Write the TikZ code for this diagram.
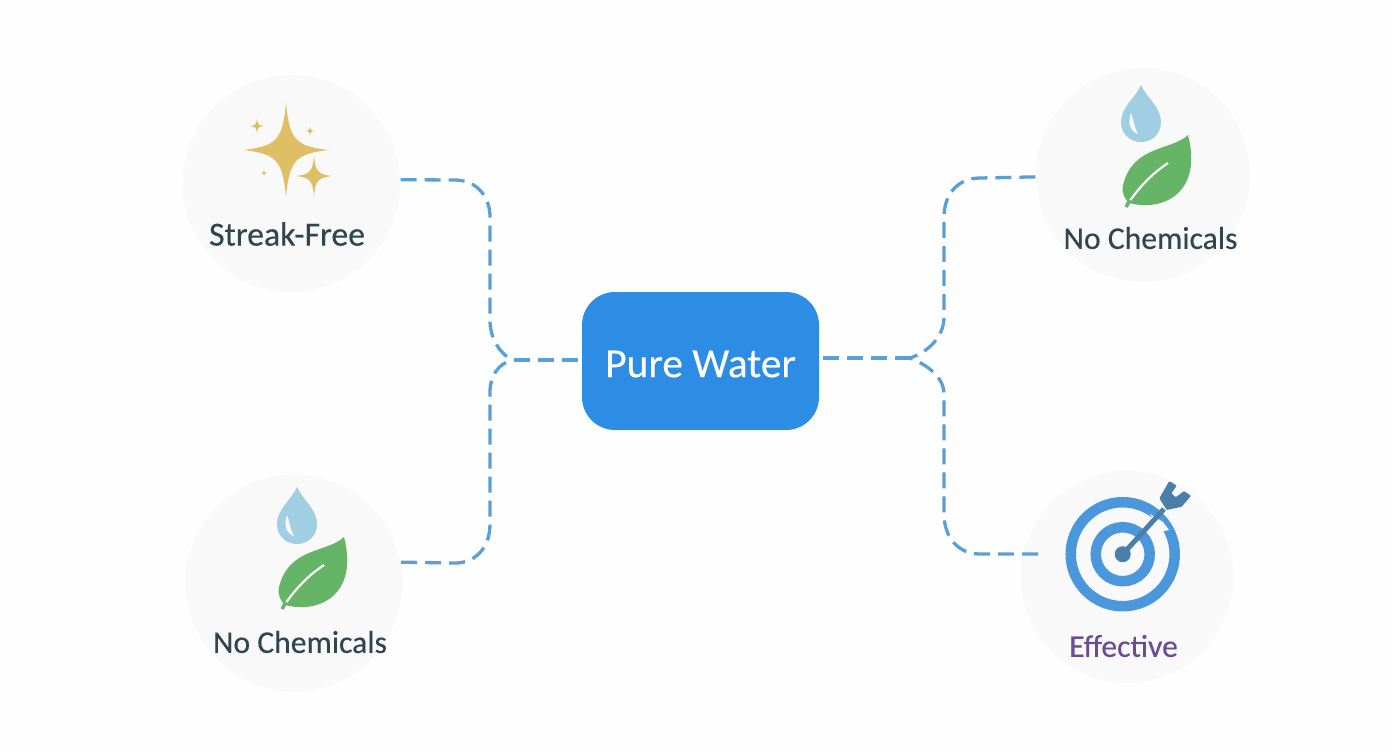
\documentclass[tikz,border=0pt]{standalone}
\usepackage{fontspec}
\setmainfont{Carlito}
\usepackage{tikz}
\usetikzlibrary{positioning}
\definecolor{pagebg}{HTML}{FEFEFE}
\definecolor{circbg}{HTML}{F9F9FA}
\definecolor{boxblue}{HTML}{2D8CE3}
\definecolor{linkblue}{HTML}{5A9FD8}
\definecolor{ringblue}{HTML}{4A98DB}
\definecolor{dartblue}{HTML}{4A7FA8}
\definecolor{stargold}{HTML}{DFBF66}
\definecolor{dropblue}{HTML}{A0CFE4}
\definecolor{leafgreen}{HTML}{66B566}
\definecolor{slate}{HTML}{2F4550}
\definecolor{plum}{HTML}{6A4C93}
\tikzstyle{link} = [linkblue,line width=0.033cm,dash pattern=on 0.16cm off 0.08cm]
\tikzstyle{badge} = [circle,fill=circbg,inner sep=0pt]
\tikzstyle{caption} = [slate,inner sep=0pt,font=\fontsize{9.6}{12}\selectfont\addfontfeature{FakeBold=0.3}]
\tikzstyle{smallcaption} = [caption,font=\fontsize{9.0}{12}\selectfont\addfontfeature{FakeBold=0.3}]
\newcommand{\sparkle}[4]{%
        \fill[stargold] (#1,#2+#4) .. controls (#1+0.08*#3,#2+0.22*#4) and (#1+0.22*#3,#2+0.08*#4) .. (#1+#3,#2)
        .. controls (#1+0.22*#3,#2-0.08*#4) and (#1+0.08*#3,#2-0.22*#4) .. (#1,#2-#4)
        .. controls (#1-0.08*#3,#2-0.22*#4) and (#1-0.22*#3,#2-0.08*#4) .. (#1-#3,#2)
        .. controls (#1-0.22*#3,#2+0.08*#4) and (#1-0.08*#3,#2+0.22*#4) .. cycle;}
\newcommand{\dropleaf}[2]{%
        \begin{scope}[shift={(#1,#2)}]
        \fill[dropblue] (0,0) .. controls (0.05,-0.12) and (0.20,-0.22) .. (0.20,-0.37)
        .. controls (0.20,-0.49) and (0.11,-0.57) .. (0,-0.57)
        .. controls (-0.11,-0.57) and (-0.20,-0.49) .. (-0.20,-0.37)
        .. controls (-0.20,-0.22) and (-0.05,-0.12) .. cycle;
        \fill[circbg] (-0.10,-0.28) .. controls (-0.14,-0.38) and (-0.10,-0.47) .. (-0.03,-0.49)
        .. controls (-0.07,-0.42) and (-0.07,-0.36) .. cycle;
        \fill[leafgreen] (0.47,-0.50) .. controls (0.30,-0.66) and (-0.08,-0.60) .. (-0.18,-1.00)
        .. controls (-0.20,-1.08) and (-0.16,-1.14) .. (-0.12,-1.18)
        .. controls (0.22,-1.27) and (0.62,-1.08) .. cycle;
        \draw[circbg,line width=0.022cm] (-0.12,-1.17) .. controls (0.00,-1.00) and (0.12,-0.88) .. (0.27,-0.78);
        \draw[leafgreen,line width=0.035cm] (-0.15,-1.22) -- (-0.11,-1.15);
        \end{scope}}
\begin{document}
\begin{tikzpicture}
        \useasboundingbox (0,0) rectangle (13.92,7.52);
        \fill[pagebg] (0,0) rectangle (13.92,7.52);
        % badges
        \node[badge,minimum size=2.17cm] (streak) at (2.915,5.685) {};
        \node[badge,minimum size=2.14cm] (chemR) at (11.43,5.77) {};
        \node[badge,minimum size=2.17cm] (chemL) at (2.94,1.69) {};
        \node[badge,minimum size=2.12cm] (effect) at (11.27,1.75) {};
        % centre box
        \node[fill=boxblue,rounded corners=0.33cm,minimum width=2.37cm,minimum height=1.38cm,outer sep=0.04cm] (pure) at (7.005,3.91) {};
        \node[text=white,inner sep=0pt,font=\fontsize{11.8}{14}\selectfont\addfontfeature{FakeBold=0.3}] (pureText) at (7.005,3.88) {Pure Water};
        \coordinate (hubL) at (5.12,3.92);
        \coordinate (hubR) at (9.10,3.94);
        \coordinate (effEnd) at (10.38,1.98);
        % links
        \draw[link] (pure.west |- hubL) -- (hubL);
        \draw[link] (pure.east |- hubR) -- (hubR);
        \draw[link] (streak.2) -- (4.55,5.72) .. controls (4.76,5.72) and (4.90,5.56) .. (4.90,5.35) -- (4.90,4.32) .. controls (4.90,4.15) and (4.98,4.00) .. (hubL);
        \draw[link] (chemL.11) -- (4.55,1.89) .. controls (4.76,1.89) and (4.90,2.05) .. (4.90,2.28) -- (4.90,3.60) .. controls (4.90,3.76) and (4.98,3.88) .. (hubL);
        \draw[link] (chemR.181) -- (9.80,5.74) .. controls (9.58,5.74) and (9.44,5.58) .. (9.44,5.35) -- (9.44,4.35) .. controls (9.44,4.15) and (9.28,4.00) .. (hubR);
        \draw[link] (effEnd) -- (9.80,1.98) .. controls (9.58,1.98) and (9.44,2.15) .. (9.44,2.38) -- (9.44,3.58) .. controls (9.44,3.75) and (9.26,3.88) .. (hubR);
        % sparkles
        \sparkle{2.86}{6.02}{0.43}{0.47}
        \sparkle{3.14}{5.76}{0.18}{0.205}
        \sparkle{2.57}{6.26}{0.07}{0.075}
        \sparkle{3.10}{6.21}{0.045}{0.05}
        \sparkle{2.64}{5.79}{0.03}{0.035}
        % drops and leaves
        \dropleaf{11.41}{6.67}
        \dropleaf{2.97}{2.65}
        % target
        \draw[ringblue,line width=0.105cm] (11.227,1.978) circle (0.52);
        \draw[ringblue,line width=0.105cm] (11.227,1.978) circle (0.27);
        \fill[circbg] (11.50,2.38) -- (11.63,2.30) -- (11.69,2.22) -- (11.60,2.20) -- cycle;
        \fill[dartblue] (11.227,1.978) circle (0.08);
        \draw[dartblue,line width=0.05cm] (11.227,1.978) -- (11.64,2.43);
        \fill[dartblue,rounded corners=0.01cm] (11.693,2.71) -- (11.767,2.663) -- (11.713,2.587) -- (11.757,2.547) -- (11.84,2.61) -- (11.91,2.563) -- (11.817,2.453) -- (11.667,2.42) -- (11.593,2.537) -- cycle;
        % captions
        \node[caption] (streakText) at (2.87,5.18) {Streak-Free};
        \node[smallcaption] (chemRText) at (11.505,5.14) {No Chemicals};
        \node[smallcaption] (chemLText) at (3.00,1.10) {No Chemicals};
        \node[smallcaption,text=plum] (effectText) at (11.235,1.06) {Effective};
\end{tikzpicture}
\end{document}
